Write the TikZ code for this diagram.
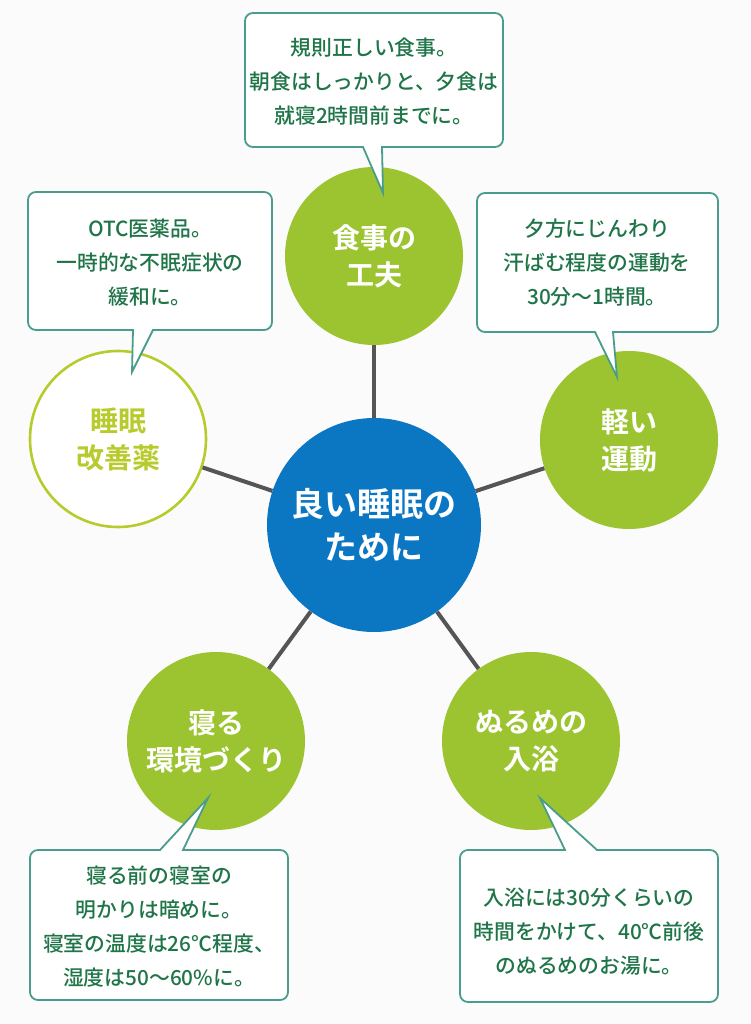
\documentclass[tikz,border=0pt]{standalone}
\usepackage{fontspec}
\setmainfont{Noto Sans CJK JP}[BoldFont={Noto Sans CJK JP Bold}]
\newfontfamily\notefont{Noto Sans CJK JP Medium}
\definecolor{leaf}{HTML}{9CC430}
\definecolor{sky}{HTML}{0B77C3}
\definecolor{olive}{HTML}{B7CB2C}
\definecolor{teal}{HTML}{4A9C8C}
\definecolor{ink}{HTML}{1F7548}
\definecolor{wire}{HTML}{555555}
\definecolor{bg}{HTML}{FBFBFB}
\tikzset{
  hub/.style={circle, fill=sky, minimum size=214pt, inner sep=0pt, text=white, font=\bfseries\fontsize{33}{43}\selectfont, align=center},
  topic/.style={circle, fill=leaf, minimum size=178pt, inner sep=0pt, text=white, font=\bfseries\fontsize{28}{37}\selectfont, align=center},
  topicring/.style={circle, draw=olive, line width=2.6pt, fill=white, minimum size=176pt, inner sep=0pt, text=olive, font=\bfseries\fontsize{28}{37}\selectfont, align=center},
  conn/.style={draw=wire, line width=4pt},
  callout/.style={draw=teal, fill=white, line width=1.8pt, line join=miter},
  note/.style={text=ink, font=\notefont\fontsize{20.8}{34}\selectfont, align=center, inner sep=0pt}
}
\begin{document}
\begin{tikzpicture}[x=1pt,y=-1pt]
\useasboundingbox (0,0) rectangle (751,1024);
\fill[bg] (0,0) rectangle (751,1024);
% circles
\node[hub] (hub) at (374,525) {良い睡眠の\\ために};
\node[topic] (meal) at (374,256) {食事の\\工夫};
\node[topic] (sport) at (629,440) {軽い\\運動};
\node[topicring] (drug) at (118,439) {睡眠\\改善薬};
\node[topic] (room) at (216,741) {寝る\\環境づくり};
\node[topic] (bath) at (531,741) {ぬるめの\\入浴};
% connectors
\draw[conn] (hub) -- (meal);
\draw[conn] (hub) -- (sport);
\draw[conn] (hub) -- (drug);
\draw[conn] (hub) -- (room);
\draw[conn] (hub) -- (bath);
% callouts
\draw[callout] (382,147) -- (440,147) [rounded corners=8] -- (503,147) -- (503,13) -- (245,13) -- (245,147) -- (300,147) [sharp corners] -- (363,147) -- (383,193) -- cycle;
\draw[callout] (613,332) -- (660,332) [rounded corners=8] -- (718,332) -- (718,193) -- (477,193) -- (477,332) -- (540,332) [sharp corners] -- (595,332) -- (617,377) -- cycle;
\draw[callout] (153,330) -- (200,330) [rounded corners=8] -- (272,330) -- (272,192) -- (28,192) -- (28,330) -- (80,330) [sharp corners] -- (133,330) -- (132,372) -- cycle;
\draw[callout] (160,850) -- (100,850) [rounded corners=8] -- (30,850) -- (30,1000) -- (288,1000) -- (288,850) -- (230,850) [sharp corners] -- (183,850) -- (208,798) -- cycle;
\draw[callout] (565,850) -- (510,850) [rounded corners=8] -- (460,850) -- (460,1002) -- (718,1002) -- (718,850) -- (650,850) [sharp corners] -- (597,850) -- (540,798) -- cycle;
% notes
\node[note] (nmeal) at (374,82) {規則正しい食事。\\朝食はしっかりと、夕食は\\就寝2時間前までに。};
\node[note] (nsport) at (597,263) {夕方にじんわり\\汗ばむ程度の運動を\\30分～1時間。};
\node[note] (ndrug) at (150,263) {OTC医薬品。\\一時的な不眠症状の\\緩和に。};
\node[note] (nroom) at (159,927) {寝る前の寝室の\\明かりは暗めに。\\寝室の温度は26℃程度、\\湿度は50～60\%に。};
\node[note] (nbath) at (589,932) {入浴には30分くらいの\\時間をかけて、40℃前後\\のぬるめのお湯に。};
\end{tikzpicture}
\end{document}
